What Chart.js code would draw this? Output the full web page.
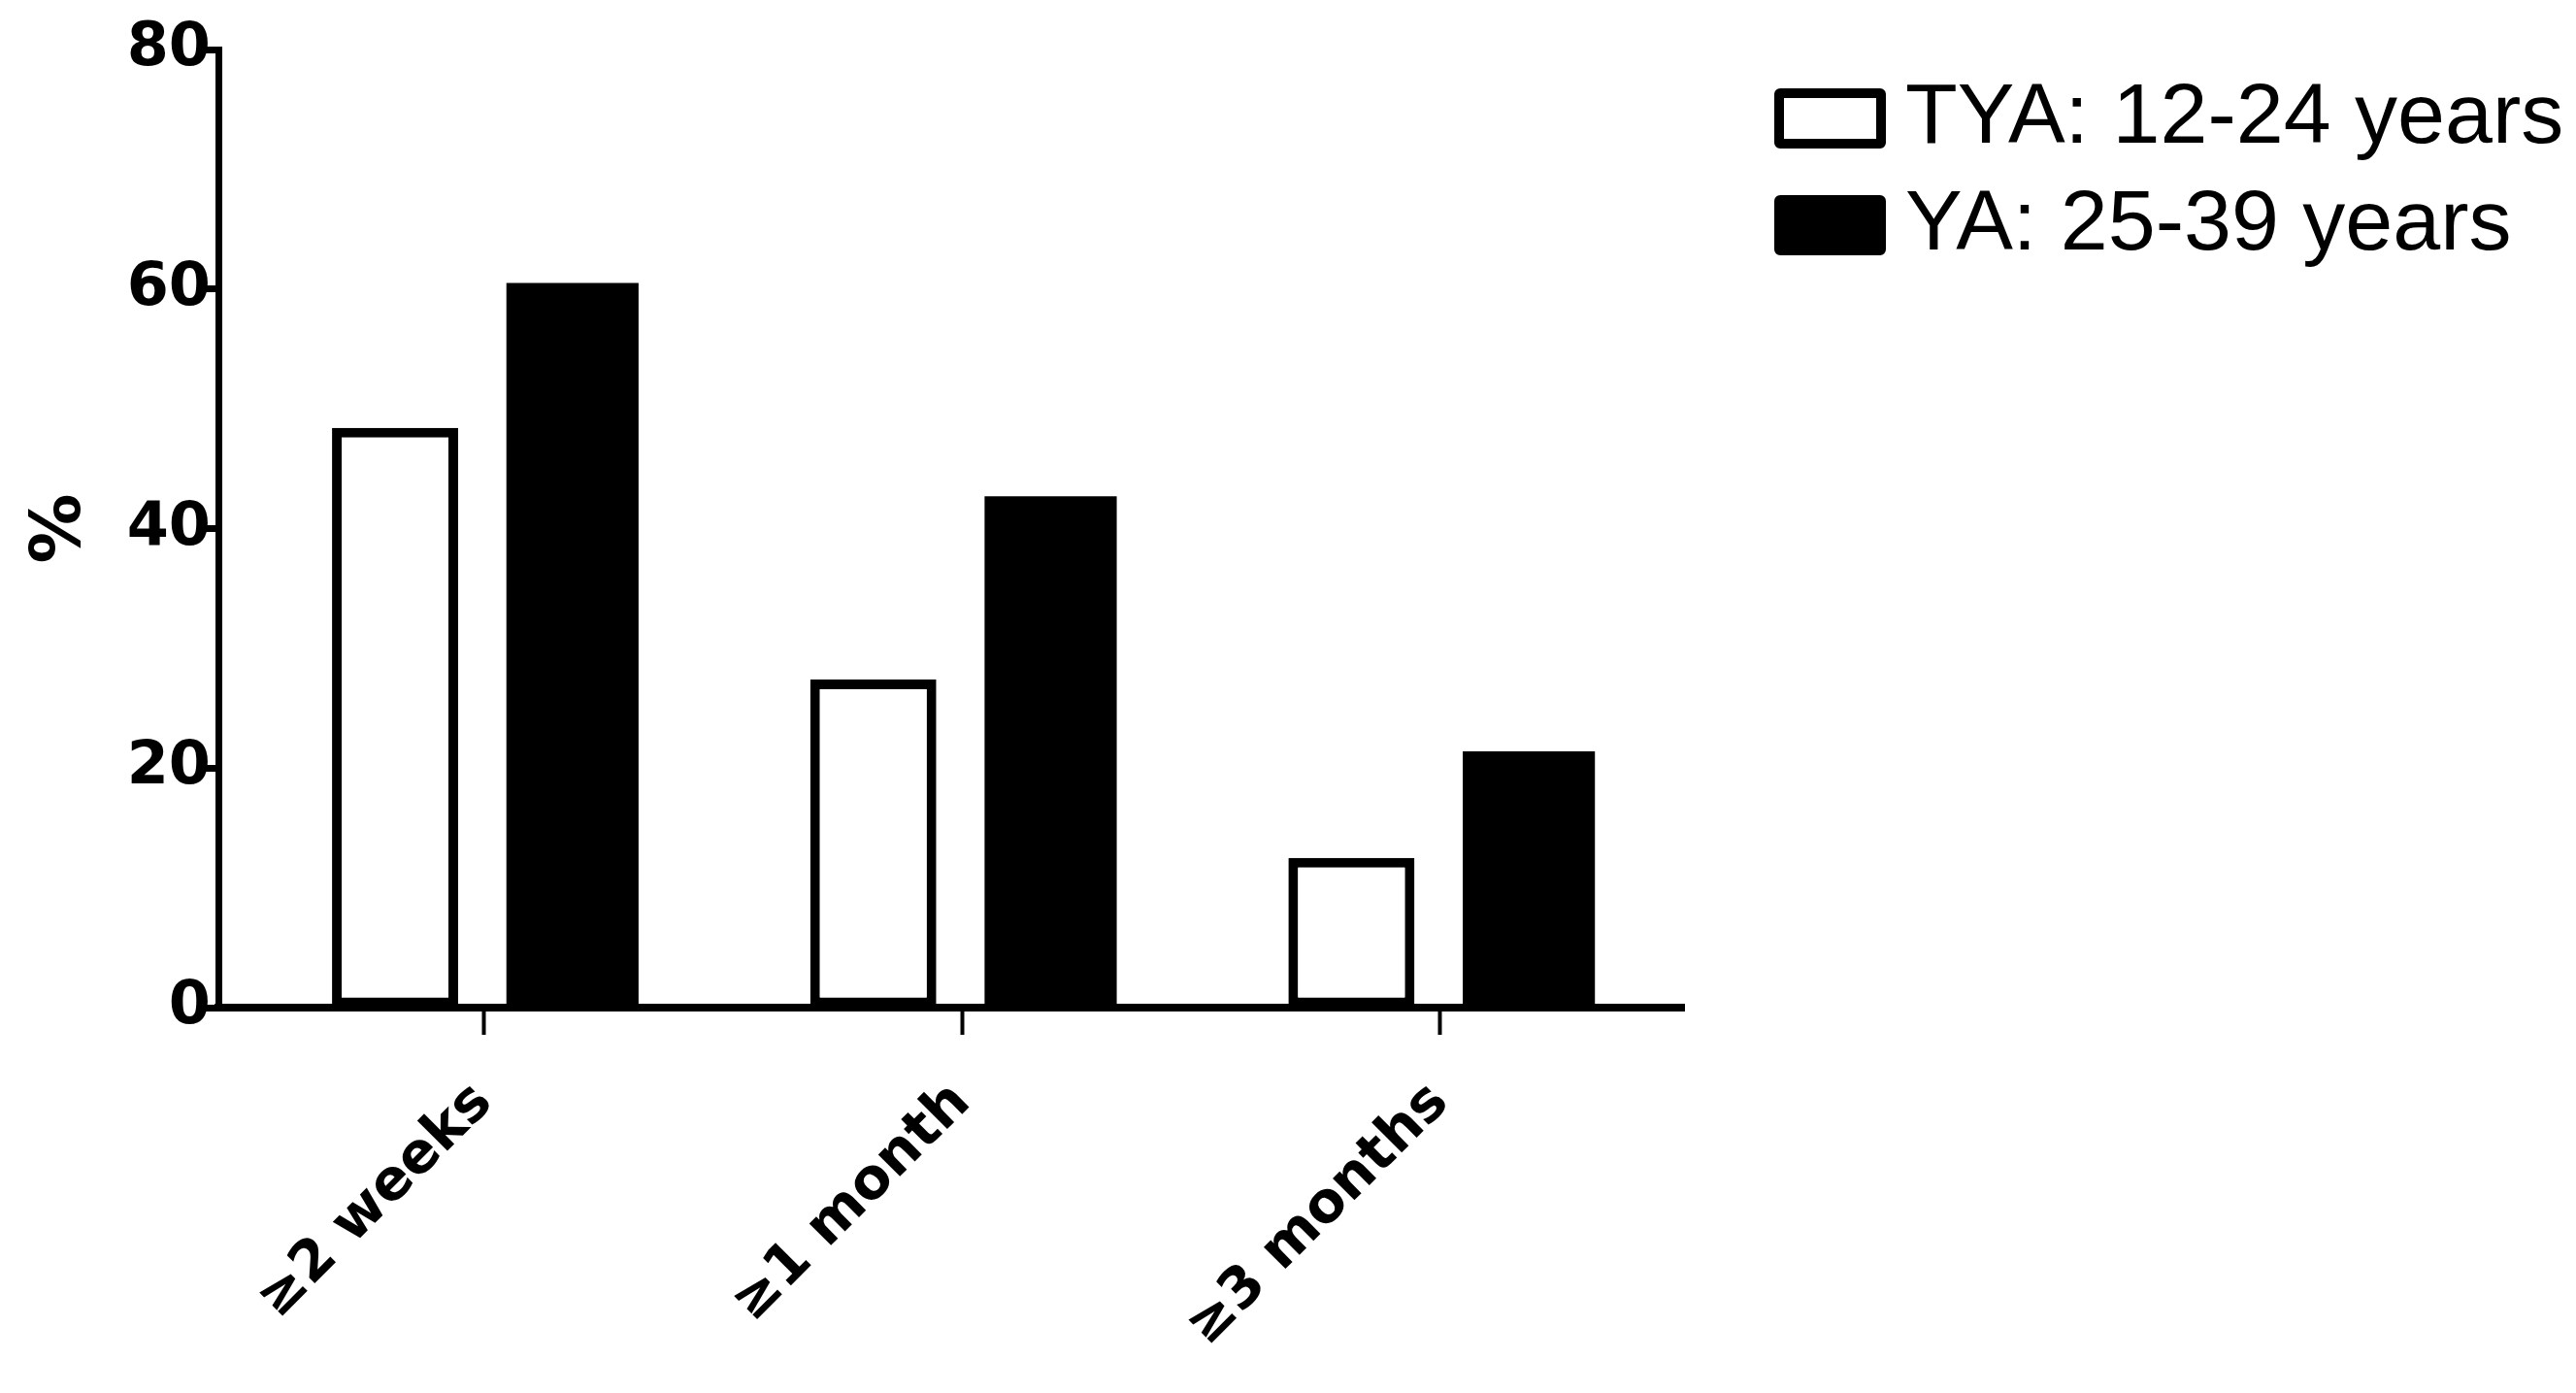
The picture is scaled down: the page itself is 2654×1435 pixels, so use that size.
<!DOCTYPE html>
<html>
<head>
<meta charset="utf-8">
<title>Duration by age group</title>
<script src="https://cdn.jsdelivr.net/npm/chart.js@4.4.1/dist/chart.umd.min.js"></script>
<style>
    html, body { margin: 0; padding: 0; background: #fff; }
    #wrap { position: relative; width: 2654px; height: 1435px; }
    #legend {
        position: absolute; left: 1828px; top: 91px;
        font-family: "Liberation Sans", Arial, sans-serif; font-size: 88px; color: #000;
    }
    .item { display: flex; align-items: center; height: 61px; margin-bottom: 49px; white-space: nowrap; }
    .item span.txt { position: relative; top: -5px; }
    .swatch { width: 115px; height: 62px; box-sizing: border-box; border: 10px solid #000; border-radius: 6px; margin-right: 20px; }
</style>
</head>
<body>
<div id="wrap">
    <canvas id="chart"></canvas>
    <div id="legend"></div>
</div>
<script>
// ------------------------------------------------------------
// Data
// ------------------------------------------------------------
const categories = ["≥2 weeks", "≥1 month", "≥3 months"];
const seriesLabels = ["TYA: 12-24 years", "YA: 25-39 years"];
const tyaValues = [48.4, 27.4, 12.5];
const yaValues = [60.5, 42.7, 21.4];
const yTicks = [0, 20, 40, 60, 80];
const fills = ["#ffffff", "#000000"];

const BOLD = "DejaVu Sans";

function points(values) {
    return values.map((v, i) => ({ x: i, y: v }));
}

function renderLegend() {
    const el = document.getElementById("legend");
    el.innerHTML = seriesLabels.map((label, i) =>
        `<div class="item"><span class="swatch" style="background:${fills[i]}"></span><span class="txt">${label}</span></div>`
    ).join("");
}

function renderChart() {
    const ctx = document.getElementById("chart").getContext("2d");

    // open bars carry the thick outline, solid bars are plain fills
    const datasets = [
        {
            label: seriesLabels[0],
            data: points(tyaValues),
            backgroundColor: fills[0],
            borderColor: "#000",
            borderWidth: 10,
            borderSkipped: false,
            categoryPercentage: 0.742,
            barPercentage: 0.711
        },
        {
            label: seriesLabels[1],
            data: points(yaValues),
            backgroundColor: fills[1],
            borderWidth: 0,
            categoryPercentage: 0.742,
            barPercentage: 0.745
        }
    ];

    new Chart(ctx, {
        type: "bar",
        data: { datasets },
        options: {
            responsive: true,
            maintainAspectRatio: false,
            animation: false,
            layout: { padding: { top: 51, right: 919, bottom: 0, left: 0 } },
            plugins: {
                legend: { display: false },
                tooltip: { enabled: false }
            },
            scales: {
                x: {
                    type: "linear",
                    offset: false,
                    min: -0.555,
                    max: 2.51,
                    afterBuildTicks: s => { s.ticks = categories.map((_, i) => ({ value: i })); },
                    afterFit: s => { s.height = 397; },
                    ticks: {
                        callback: v => categories[v],
                        minRotation: 45,
                        maxRotation: 45,
                        padding: 36,
                        color: "#000",
                        font: { family: BOLD, size: 58, weight: "bold" }
                    },
                    grid: {
                        offset: false,
                        drawOnChartArea: false,
                        drawTicks: true,
                        tickLength: 28,
                        tickWidth: 4,
                        tickColor: "#000"
                    },
                    border: { display: true, color: "#000", width: 8 }
                },
                y: {
                    min: 0,
                    max: 80,
                    afterBuildTicks: s => { s.ticks = yTicks.map(v => ({ value: v })); },
                    afterFit: s => { s.width = 225; },
                    ticks: { padding: -6, color: "#000", font: { family: BOLD, size: 62, weight: "bold" } },
                    grid: {
                        drawOnChartArea: false,
                        drawTicks: true,
                        tickLength: 14,
                        tickWidth: 7,
                        tickColor: "#000"
                    },
                    border: { display: true, color: "#000", width: 7 },
                    title: {
                        display: true,
                        text: "%",
                        color: "#000",
                        padding: { top: 20, bottom: 0 },
                        font: { family: BOLD, size: 72, weight: "bold" }
                    }
                }
            }
        }
    });
}

renderLegend();
renderChart();
</script>
</body>
</html>
